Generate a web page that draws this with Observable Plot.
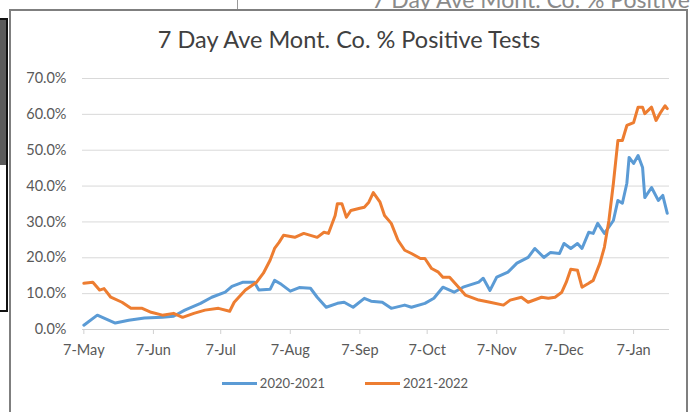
<!DOCTYPE html>
<html>
<head>
<meta charset="utf-8">
<script src="https://cdn.jsdelivr.net/npm/d3@7"></script>
<script src="https://cdn.jsdelivr.net/npm/@observablehq/plot@0.6"></script>
<style>
  html, body { margin: 0; padding: 0; background: #ffffff; }
  body { width: 695px; height: 412px; position: relative; overflow: hidden; font-family: Lato, "Open Sans", sans-serif; }
  #box { position: absolute; left: 9px; top: 9px; width: 675px; height: 420px; border: 2px solid #7f7f7f; border-bottom: none; background: #fff; }
  #leftStripTop { position: absolute; left: -2px; top: 18px; width: 6px; height: 147px; background: #5a5a5a; border: 2px solid #111; border-bottom: none; }
  #leftStripBot { position: absolute; left: -2px; top: 165px; width: 6px; height: 145px; background: #fff; border: 2px solid #111; border-top: none; }
  #topClip { position: absolute; left: 0; top: 0; width: 695px; height: 9px; overflow: hidden; }
  #topClip .ghost { position: absolute; left: 372px; top: -15px; font-size: 23px; color: #8a8a8a; white-space: nowrap; }
  #topClip .vline { position: absolute; left: 237px; top: 0; width: 1px; height: 9px; background: #999; }
  #title { position: absolute; left: 0; top: 25px; width: 698px; text-align: center; font-size: 23.5px; color: #404040; }
  #chart { position: absolute; left: 0; top: 60px; }
  #legend { position: absolute; left: 0; top: 375px; width: 690px; display: flex; justify-content: center; align-items: center; font-size: 13px; color: #595959; }
  #legend .item { display: flex; align-items: center; margin: 0 20px; }
  #legend .sw { width: 35px; height: 3px; margin-right: 3px; }
</style>
</head>
<body>
<div id="topClip"><div class="vline"></div><div class="ghost">7 Day Ave Mont. Co. % Positive Tests</div></div>
<div id="leftStripTop"></div>
<div id="leftStripBot"></div>
<div id="box"></div>
<div id="title">7 Day Ave Mont. Co. % Positive Tests</div>
<div id="chart"></div>
<div id="legend"></div>
<script>
// Day offsets from 7-May and 7-day average % positive values
const seriesNames = ["2020-2021", "2021-2022"];
const seriesColors = ["#5B9BD5", "#ED7D31"];

const blueDays = [0,6,14,20,27,35,40,45,52,57,63,66,71,76,78,83,85,88,92,96,101,104,108,113,116,120,125,128,133,137,143,146,152,156,160,165,169,176,178,181,184,189,193,198,201,205,208,212,214,217,220,222,225,227,229,232,236,238,240,242,243,245,247,249,250,253,256,258,260];
const blueVals = [1.2,4.0,1.8,2.6,3.2,3.4,3.7,5.4,7.3,9.0,10.4,12.0,13.2,13.2,11.0,11.2,13.7,12.6,10.7,11.7,11.5,9.0,6.2,7.3,7.6,6.2,8.7,7.9,7.6,5.9,6.8,6.2,7.3,8.7,11.8,10.4,11.8,13.2,14.3,10.9,14.6,16.0,18.5,20.1,22.6,20.1,21.5,21.2,24.0,22.6,24.0,22.6,27.1,26.8,29.6,26.8,30.4,36.0,35.2,40.8,48.0,46.3,48.5,45.2,36.8,39.6,36.0,37.4,32.4];

const orangeDays = [0,4,7,9,12,17,21,26,30,35,40,44,49,54,60,65,67,72,77,80,83,85,87,89,94,98,104,107,109,112,113,115,117,119,123,125,127,129,132,134,137,140,143,146,150,152,155,158,160,163,167,170,176,181,187,190,195,198,204,207,210,213,215,217,220,222,225,227,230,232,234,236,238,240,242,245,247,249,250,253,255,257,259,260];
const orangeVals = [12.9,13.2,11.0,11.4,9.0,7.6,5.9,5.9,4.8,4.0,4.5,3.4,4.5,5.4,5.9,5.1,7.6,11.0,13.2,15.7,19.3,22.6,24.3,26.3,25.7,26.8,25.7,27.1,26.8,31.8,35.1,35.1,31.3,33.2,33.8,34.1,35.5,38.2,35.5,31.8,29.6,24.9,22.1,21.2,19.8,19.8,17.0,16.0,14.6,14.6,11.8,9.6,8.2,7.6,6.8,8.2,9.0,7.6,9.0,8.7,9.0,10.4,13.2,16.8,16.5,11.8,12.9,13.7,18.5,23.0,30.4,40.8,52.7,52.7,56.9,57.7,62.0,62.0,60.2,62.0,58.3,60.5,62.4,61.6];

const xTickLabels = ["7-May","7-Jun","7-Jul","7-Aug","7-Sep","7-Oct","7-Nov","7-Dec","7-Jan"];
const yTickValues = [0, 0.1, 0.2, 0.3, 0.4, 0.5, 0.6, 0.7];

const dayToDate = d => new Date(Date.UTC(2020, 4, 7) + d * 86400000);
const toRows = (days, vals, name) => days.map((d, i) => ({date: dayToDate(d), value: vals[i] / 100, series: name}));
const rows = [
  ...toRows(blueDays, blueVals, seriesNames[0]),
  ...toRows(orangeDays, orangeVals, seriesNames[1])
];
const xTicks = xTickLabels.map((_, i) => new Date(Date.UTC(2020, 4 + i, 7)));

const chart = Plot.plot({
  width: 695,
  height: 310,
  marginLeft: 82,
  marginRight: 26,
  marginTop: 18,
  marginBottom: 41,
  style: {fontFamily: "Lato, 'Open Sans', sans-serif", fontSize: "14.5px", background: "transparent", overflow: "visible"},
  x: {type: "utc", domain: [dayToDate(-0.6), dayToDate(261)]},
  y: {domain: [0, 0.7]},
  color: {domain: seriesNames, range: seriesColors},
  marks: [
    Plot.gridY(yTickValues.slice(1), {stroke: "#d9d9d9", strokeOpacity: 1, strokeWidth: 1}),
    Plot.ruleY([0], {stroke: "#d0d0d0", strokeWidth: 1}),
    Plot.axisX({ticks: xTicks, tickFormat: (d, i) => xTickLabels[i], tickSize: 5, tickPadding: 10, stroke: "#d0d0d0", fill: "#595959", label: null}),
    Plot.axisY({ticks: yTickValues, tickFormat: d3.format(".1%"), tickSize: 0, tickPadding: 16, fill: "#595959", label: null}),
    Plot.line(rows, {x: "date", y: "value", z: "series", stroke: "series", strokeWidth: 3, strokeLinejoin: "round", strokeLinecap: "round"})
  ]
});
document.getElementById("chart").appendChild(chart);

const legend = document.getElementById("legend");
seriesNames.forEach((name, i) => {
  const item = document.createElement("div");
  item.className = "item";
  const sw = document.createElement("div");
  sw.className = "sw";
  sw.style.background = seriesColors[i];
  const label = document.createElement("span");
  label.textContent = name;
  item.appendChild(sw);
  item.appendChild(label);
  legend.appendChild(item);
});
</script>
</body>
</html>
